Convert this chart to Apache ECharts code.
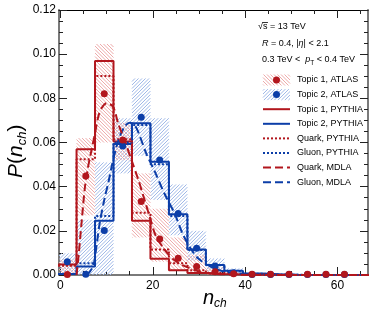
<!DOCTYPE html>
<html>
<head>
<meta charset="utf-8">
<script src="https://cdn.jsdelivr.net/npm/echarts@6/dist/echarts.min.js"></script>
<style>html,body{margin:0;padding:0;background:#fff}#c{width:386px;height:316px}</style>
</head>
<body>
<div id="c"></div>
<script>
// ---------------- data ----------------
const binCenters   = [1.5,5.5,9.5,13.5,17.5,21.5,25.5,29.5,33.5,37.5,41.5,45.5,49.5,53.5,57.5,61.5,65.5];
const topic1Pythia = [0.0047,0.0569,0.0969,0.0604,0.0246,0.0074,0.0021,0.0009,0.0004,0.0002,0.0001,0,0,0,0,0,0];
const topic2Pythia = [0.0005,0.0038,0.0246,0.0593,0.0687,0.0513,0.0275,0.0116,0.0045,0.0019,0.0007,0.0003,0.0001,0,0,0,0];
const quarkPythia  = [0.0042,0.0524,0.0901,0.0615,0.0282,0.0116,0.0053,0.0022,0.0009,0.0004,0.0002,0.0001,0,0,0,0,0];
const gluonPythia  = [0.0005,0.0053,0.0267,0.0600,0.0679,0.0501,0.0267,0.0113,0.0045,0.0016,0.0006,0.0002,0.0001,0,0,0,0];

const topic1Atlas = [0.0002,0.0448,0.0821,0.0611,0.0333,0.0163,0.0076,0.0038,0.0015,0.0006,0.0003,0.0003,0.0003,0.0003,0.0003,0.0003];
const topic2Atlas = [0.0060,0.0003,0.0201,0.0584,0.0714,0.0521,0.0279,0.0121,0.0041,0.0010,0.0002,0.0002,0.0002,0.0002,0.0002,0.0002];
const topic1Lo = [0.0000,0.0270,0.0600,0.0520,0.0170,0.0060,0.0018,0.0005,0.0000,0.0000];
const topic1Hi = [0.0070,0.0620,0.1046,0.0690,0.0460,0.0300,0.0170,0.0092,0.0035,0.0012];
const topic2Lo = [0.0000,0.0000,0.0000,0.0460,0.0540,0.0340,0.0180,0.0065,0.0005,0.0000];
const topic2Hi = [0.0098,0.0250,0.0510,0.0710,0.0890,0.0710,0.0410,0.0200,0.0075,0.0030];

const quarkMdlaX = [3.5,4.0,4.6,5.3,6.0,6.75,7.5,8.2,8.9,10.0,11.4,12.5,14.0,15.4,16.9,18.0,19.4,20.7,22.9,24.5,26.4,30.0,33.0,37.0,42.0,50.0,66.6];
const quarkMdlaY = [0.0,0.010,0.024,0.0395,0.049,0.0566,0.0642,0.0717,0.0755,0.0778,0.0762,0.0687,0.0604,0.052,0.043,0.0355,0.026,0.0175,0.0106,0.007,0.0045,0.0016,0.0006,0.0002,0.0,0.0,0.0];
const gluonMdlaX = [5.8,7.1,7.85,8.55,9.6,10.4,11.2,12.0,13.0,14.0,15.0,16.0,16.8,18.6,20.4,22.5,24.7,26.4,28.2,30.0,32.5,35.0,38.0,42.0,50.0,66.6];
const gluonMdlaY = [0.0,0.004,0.0136,0.024,0.035,0.042,0.050,0.057,0.0635,0.0675,0.069,0.068,0.065,0.055,0.047,0.037,0.028,0.019,0.012,0.0072,0.0038,0.0018,0.0007,0.0002,0.0,0.0];

const xMajorTicks = [0,20,40,60];
const xMinorTicks = [5,10,15,25,30,35,45,50,55,65];
const legendLabels = ['Topic 1, ATLAS','Topic 2, ATLAS','Topic 1, PYTHIA','Topic 2, PYTHIA','Quark, PYTHIA','Gluon, PYTHIA','Quark, MDLA','Gluon, MDLA'];

// ---------------- style ----------------
const XMIN = -0.3, XMAX = 66.6;
const BINW = 4;
const RED = '#b2161d', BLUE = '#0c3ea8';
const RED_HATCH = 'rgb(238,170,170)', BLUE_HATCH = 'rgb(160,185,232)';
const HATCH_P = 3.5;
const FONT = '"Liberation Sans", Arial, Helvetica, sans-serif';

// diagonal hatch lines inside a pixel rectangle
function hatchLines(x0, y0, w, h, asc, color) {
  const x1 = x0 + w, y1 = y0 + h, out = [];
  if (w <= 0 || h <= 0) return out;
  if (asc) { // lines x + y = c
    let c = Math.ceil((x0 + y0) / HATCH_P) * HATCH_P;
    for (; c <= x1 + y1; c += HATCH_P) {
      const xa = Math.max(x0, c - y1), xb = Math.min(x1, c - y0);
      if (xb > xa) out.push({ type: 'line', silent: true, shape: { x1: xa, y1: c - xa, x2: xb, y2: c - xb }, style: { stroke: color, lineWidth: 1 } });
    }
  } else { // lines x - y = c
    let c = Math.ceil((x0 - y1) / HATCH_P) * HATCH_P;
    for (; c <= x1 - y0; c += HATCH_P) {
      const xa = Math.max(x0, y0 + c), xb = Math.min(x1, y1 + c);
      if (xb > xa) out.push({ type: 'line', silent: true, shape: { x1: xa, y1: xa - c, x2: xb, y2: xb - c }, style: { stroke: color, lineWidth: 1 } });
    }
  }
  return out;
}

function histData(vals) {
  const d = binCenters.map((c, i) => [c - BINW / 2, vals[i]]);
  d.push([binCenters[binCenters.length - 1] + BINW / 2, vals[vals.length - 1]]);
  return d;
}
function bandData(lo, hi) {
  return lo.map((l, i) => [binCenters[i] - BINW / 2, binCenters[i] + BINW / 2, l, hi[i]]);
}
function pts(xs, ys) { return ys.map((y, i) => [xs[i], y]); }

function bandSeries(lo, hi, asc, color) {
  return {
    type: 'custom', clip: true, z: 1, silent: true,
    data: bandData(lo, hi),
    encode: { x: [0, 1], y: [2, 3] },
    renderItem: function (params, api) {
      const p0 = api.coord([Math.max(api.value(0), XMIN), api.value(3)]);
      const p1 = api.coord([Math.min(api.value(1), XMAX), api.value(2)]);
      return { type: 'group', children: hatchLines(p0[0], p0[1], p1[0] - p0[0], p1[1] - p0[1], asc, color) };
    }
  };
}
function histSeries(vals, color, type) {
  return { type: 'line', step: 'end', symbol: 'none', z: 3, silent: true, data: histData(vals),
    lineStyle: { color: color, width: 2, type: type } };
}
function curveSeries(xs, ys, color) {
  return { type: 'line', smooth: 0.3, symbol: 'none', z: 4, silent: true, data: pts(xs, ys),
    lineStyle: { color: color, width: 2, type: [8, 4] } };
}
function dotSeries(vals, color) {
  return { type: 'scatter', symbol: 'circle', symbolSize: 7, z: 5, silent: true,
    itemStyle: { color: color, opacity: 1 }, data: vals.map((v, i) => [binCenters[i], v]) };
}

// text layout helper (measures with canvas)
const mctx = document.createElement('canvas').getContext('2d');
function tokens(list, x0, baseline) {
  let x = x0; const out = [];
  list.forEach(t => {
    const size = t.size, style = t.italic ? 'italic' : 'normal';
    mctx.font = style + ' ' + size + 'px ' + FONT;
    const w = mctx.measureText(t.text).width;
    out.push({ type: 'text', x: x, y: baseline + (t.dy || 0) - 0.35 * size, silent: true,
      style: { text: t.text, fontSize: size, fontStyle: style, fontFamily: FONT, fill: '#000', align: 'left', verticalAlign: 'middle' } });
    x += w;
  });
  return out;
}

// ---------------- graphics: titles, header, legend ----------------
const graphics = [];
tokens([{ text: 'n', size: 20, italic: true }, { text: 'ch', size: 12, italic: true, dy: 3 }], 203, 305).forEach(e => graphics.push(e));
graphics.push({ type: 'group', x: 24, y: 178, rotation: Math.PI / 2, children:
  tokens([{ text: 'P', size: 21, italic: true }, { text: '(', size: 21 }, { text: 'n', size: 21, italic: true },
          { text: 'ch', size: 13, italic: true, dy: 3 }, { text: ')', size: 21 }], 0, 0) });
const HF = 9;
tokens([{ text: '\u221As', size: HF }, { text: ' = 13 TeV', size: HF }], 258, 30).forEach(e => graphics.push(e));
mctx.font = 'normal ' + HF + 'px ' + FONT;
const wSqrt = mctx.measureText('\u221A').width, wS = mctx.measureText('s').width;
graphics.push({ type: 'line', silent: true, shape: { x1: 258 + wSqrt - 0.5, y1: 22.5, x2: 258 + wSqrt + wS + 0.5, y2: 22.5 }, style: { stroke: '#000', lineWidth: 0.8 } });
tokens([{ text: 'R', size: HF, italic: true }, { text: ' = 0.4, |', size: HF }, { text: '\u03B7', size: HF, italic: true },
        { text: '| < 2.1', size: HF }], 262, 46.5).forEach(e => graphics.push(e));
tokens([{ text: '0.3 TeV <  ', size: HF }, { text: 'p', size: HF, italic: true }, { text: 'T', size: 6.5, dy: 2.5 },
        { text: ' < 0.4 TeV', size: HF }], 262, 63).forEach(e => graphics.push(e));
const LX0 = 263, LX1 = 290, LTX = 297;
const legendY = legendLabels.map((_, i) => 80 + 14.6 * i);
const legendStyles = [
  { kind: 'atlas', asc: false, hatch: RED_HATCH, color: RED },
  { kind: 'atlas', asc: true, hatch: BLUE_HATCH, color: BLUE },
  { kind: 'line', color: RED, dash: null },
  { kind: 'line', color: BLUE, dash: null },
  { kind: 'line', color: RED, dash: [2, 2] },
  { kind: 'line', color: BLUE, dash: [2, 2] },
  { kind: 'line', color: RED, dash: [8, 4] },
  { kind: 'line', color: BLUE, dash: [8, 4] }
];
legendLabels.forEach((lab, i) => {
  const y = legendY[i], st = legendStyles[i];
  if (st.kind === 'atlas') {
    hatchLines(LX0, y - 5.5, LX1 - LX0, 11, st.asc, st.hatch).forEach(e => graphics.push(e));
    graphics.push({ type: 'circle', silent: true, shape: { cx: (LX0 + LX1) / 2, cy: y, r: 3.5 }, style: { fill: st.color } });
  } else {
    graphics.push({ type: 'line', silent: true, shape: { x1: LX0, y1: y, x2: LX1, y2: y }, style: { stroke: st.color, lineWidth: 2, lineDash: st.dash } });
  }
  graphics.push({ type: 'text', silent: true, x: LTX, y: y, style: { text: lab, fontSize: 9, fontFamily: FONT, fill: '#000', align: 'left', verticalAlign: 'middle' } });
});

// ---------------- axes ----------------
const AX = '#7a7a7a', TK = '#222';
function xAx(pos, major, showLine, showLabel) {
  return { type: 'value', position: pos, min: XMIN, max: XMAX,
    axisLine: { show: showLine, onZero: false, lineStyle: { color: pos === 'top' ? '#000' : AX, width: pos === 'top' ? 1 : 2 } },
    axisTick: { show: true, inside: true, length: major ? 8 : 4, customValues: major ? xMajorTicks : xMinorTicks, lineStyle: { color: TK, width: 1 } },
    axisLabel: { show: showLabel, customValues: xMajorTicks, margin: 5, fontSize: 12, color: '#000', fontFamily: FONT },
    splitLine: { show: false } };
}
function yAx(pos, showLabel) {
  return { type: 'value', position: pos, min: 0, max: 0.12, interval: 0.02,
    axisLine: { show: true, onZero: false, lineStyle: { color: AX, width: 2 } },
    axisTick: { show: true, inside: true, length: 8, lineStyle: { color: TK, width: 1 } },
    minorTick: { show: true, splitNumber: 4, length: 4, lineStyle: { color: TK, width: 1 } },
    axisLabel: { show: showLabel, margin: 3, fontSize: 12, color: '#000', fontFamily: FONT, formatter: v => v.toFixed(2) },
    splitLine: { show: false }, minorSplitLine: { show: false } };
}

const chart = echarts.init(document.getElementById('c'), null, { renderer: 'canvas' });
chart.setOption({
  animation: false,
  backgroundColor: '#fff',
  grid: { left: 59, right: 18, top: 10, bottom: 41, containLabel: false, outerBoundsMode: 'none' },
  xAxis: [xAx('bottom', true, true, true), xAx('bottom', false, false, false), xAx('top', true, true, false), xAx('top', false, false, false)],
  yAxis: [yAx('left', true), yAx('right', false)],
  series: [
    bandSeries(topic2Lo, topic2Hi, true, BLUE_HATCH),
    bandSeries(topic1Lo, topic1Hi, false, RED_HATCH),
    histSeries(topic2Pythia, BLUE, 'solid'),
    histSeries(topic1Pythia, RED, 'solid'),
    histSeries(gluonPythia, BLUE, [2, 2]),
    histSeries(quarkPythia, RED, [2, 2]),
    curveSeries(gluonMdlaX, gluonMdlaY, BLUE),
    curveSeries(quarkMdlaX, quarkMdlaY, RED),
    dotSeries(topic2Atlas, BLUE),
    dotSeries(topic1Atlas, RED)
  ],
  graphic: { elements: graphics }
});
</script>
</body>
</html>
